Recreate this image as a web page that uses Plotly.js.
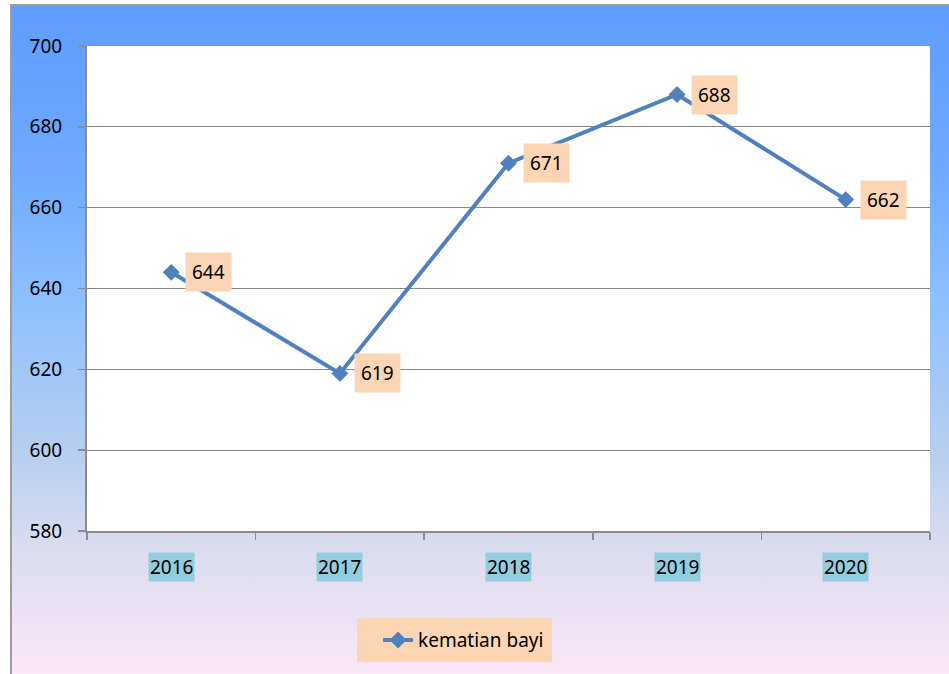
<!DOCTYPE html>
<html>
<head>
<meta charset="utf-8">
<script src="https://cdn.plot.ly/plotly-3.0.1.min.js"></script>
<style>
  html, body { margin: 0; padding: 0; background: #ffffff; width: 949px; height: 674px; overflow: hidden; }
  #frame {
    position: absolute; left: 10px; top: 4px; width: 939px; height: 670px;
    border-left: 2px solid #9c9c9c; border-top: 2px solid #9c9c9c;
    background: linear-gradient(to bottom, #5e9cfe 0%, #6eaaff 25%, #8fc1ff 45%, #b3cdf0 65%, #d8dcef 80%, #fce8f8 100%);
  }
  #chart { position: absolute; left: 0; top: 0; width: 937px; height: 668px; }
</style>
</head>
<body>
<div id="frame"><div id="chart"></div></div>
<script>
const years = ["2016", "2017", "2018", "2019", "2020"];
const deaths = [644, 619, 671, 688, 662];
const seriesName = "kematian bayi";
const yTicks = [580, 600, 620, 640, 660, 680, 700];

const FONT = "Noto Sans, DejaVu Sans, sans-serif";

const trace = {
  x: years,
  y: deaths,
  type: "scatter",
  mode: "lines+markers",
  name: seriesName,
  line: { color: "#4f81bd", width: 4 },
  marker: { symbol: "diamond", size: 13, color: "#4f81bd" },
  hoverinfo: "x+y"
};

const annotations = [];
years.forEach((yr, i) => {
  annotations.push({
    x: i, y: deaths[i], xref: "x", yref: "y",
    text: String(deaths[i]), showarrow: false,
    xanchor: "left", yanchor: "middle", xshift: 14,
    bgcolor: "#fcd5b5", borderpad: 6,
    font: { family: FONT, size: 19, color: "#000000" }
  });
  annotations.push({
    x: i, y: 0, xref: "x", yref: "paper",
    text: yr, showarrow: false,
    xanchor: "center", yanchor: "middle", yshift: -36,
    bgcolor: "#93cddd", borderpad: 1,
    font: { family: FONT, size: 19, color: "#000000" }
  });
});

const layout = {
  width: 937, height: 668,
  margin: { l: 75, r: 19, t: 40, b: 143 },
  paper_bgcolor: "rgba(0,0,0,0)",
  plot_bgcolor: "#ffffff",
  showlegend: true,
  legend: {
    x: 0.4467, y: -0.186, xanchor: "center", yanchor: "top",
    orientation: "h",
    bgcolor: "rgba(0,0,0,0)", borderwidth: 0,
    font: { family: FONT, size: 19, color: "#000000" }
  },
  shapes: [{
    type: "rect", xref: "paper", yref: "paper",
    x0: 0.3203, x1: 0.5516, y0: -0.2701, y1: -0.1794,
    fillcolor: "#fcd5b5", line: { width: 0 }, layer: "below"
  }],
  xaxis: {
    type: "category",
    categoryorder: "array", categoryarray: years,
    range: [-0.5, 4.5],
    showgrid: false, zeroline: false,
    showline: true, linecolor: "#8c8c8c", linewidth: 2,
    ticks: "outside", tickson: "boundaries", ticklen: 7, tickcolor: "#8c8c8c", tickwidth: 1.5,
    showticklabels: false, fixedrange: true
  },
  yaxis: {
    range: [580, 700],
    tickvals: yTicks,
    ticktext: yTicks.map(String),
    showgrid: true, gridcolor: "#878787", gridwidth: 1,
    zeroline: false,
    showline: true, linecolor: "#8c8c8c", linewidth: 2,
    ticks: "outside", ticklen: 7, tickcolor: "#8c8c8c", tickwidth: 1.5,
    ticklabelstandoff: 12,
    tickfont: { family: FONT, size: 19, color: "#000000" },
    fixedrange: true
  },
  annotations: annotations
};

Plotly.newPlot("chart", [trace], layout, { displayModeBar: false, staticPlot: true });
</script>
</body>
</html>
